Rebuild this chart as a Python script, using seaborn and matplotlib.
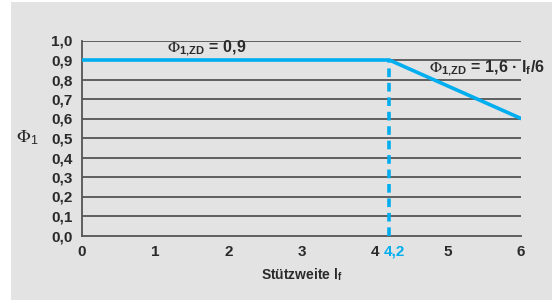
import seaborn as sns
import matplotlib.pyplot as plt
import pandas as pd

# Stützweite vs. Abminderungsfaktor
spans = [0, 4.2, 6]
phi = [0.9, 0.9, 0.6]
limit_span = 4.2
limit_phi = 0.9
x_ticks = [0, 1, 2, 3, 4, 5, 6]
y_ticks = [0.0, 0.1, 0.2, 0.3, 0.4, 0.5, 0.6, 0.7, 0.8, 0.9, 1.0]

blue = '#00aeef'
grey = '#555555'
bg = '#e3e3e3'
ink = '#2a2a2a'

sns.set_style('white')
plt.rcParams['font.family'] = ['Liberation Sans', 'DejaVu Sans']
plt.rcParams['mathtext.fontset'] = 'stix'

df = pd.DataFrame({'span': spans, 'phi': phi})

fig = plt.figure(figsize=(5.55, 3.0), dpi=100)
fig.patch.set_facecolor('white')
fig.patches.append(plt.Rectangle((11 / 555, 0), 541 / 555, 298 / 300, transform=fig.transFigure,
                                 facecolor=bg, edgecolor='none', zorder=-10))
ax = fig.add_axes([82 / 555, 1 - 235.5 / 300, 439 / 555, 195 / 300])
ax.set_facecolor('none')

for y in y_ticks[1:]:
    ax.axhline(y, color=grey, lw=1.3, zorder=1)

sns.lineplot(data=df, x='span', y='phi', color=blue, lw=2.6, ax=ax, zorder=3)
ax.plot([limit_span, limit_span], [0, limit_phi], color=blue, lw=2.6, ls=(0, (2.4, 1.6)), zorder=3)

ax.set_xlim(0, 6)
ax.set_ylim(0, 1.0)
ax.set_xticks(x_ticks)
ax.set_yticks(y_ticks)
ax.set_xticklabels([str(v) for v in x_ticks])
ax.set_yticklabels([f'{v:.1f}'.replace('.', ',') for v in y_ticks])
ax.tick_params(axis='both', direction='out', length=5, width=1.3, color=grey,
               labelsize=11, labelcolor=ink, pad=2)
for lab in ax.get_xticklabels() + ax.get_yticklabels():
    lab.set_fontweight('bold')

for s in ['top', 'right']:
    ax.spines[s].set_visible(False)
for s in ['left', 'bottom']:
    ax.spines[s].set_color(grey)
    ax.spines[s].set_linewidth(1.3)
ax.spines['bottom'].set_zorder(2)

ax.text(4.12, -0.045, '4,2', color=blue, fontsize=11, fontweight='bold',
        ha='left', va='top', transform=ax.transData)

ax.set_xlabel(r'Stützweite l$_{\mathregular{f}}$', fontsize=10, fontweight='bold', color=ink, labelpad=5)
ax.set_ylabel(r'$\Phi_{\mathregular{1}}$', fontsize=13, color=ink, rotation=0, va='center')
ax.yaxis.set_label_coords(-0.125, 0.5)

ax.text(1.16, 0.912, r'$\Phi_{\mathregular{1{,}ZD}}$ = 0,9', fontsize=11.5, fontweight='bold', color=ink,
        va='bottom', ha='left')
ax.text(4.74, 0.855, r'$\Phi_{\mathregular{1{,}ZD}}$ = 1,6 · l$_{\mathregular{f}}$/6', fontsize=11.5,
        fontweight='bold', color=ink, va='center', ha='left')

fig.savefig('out.png', dpi=100, facecolor=fig.get_facecolor())
